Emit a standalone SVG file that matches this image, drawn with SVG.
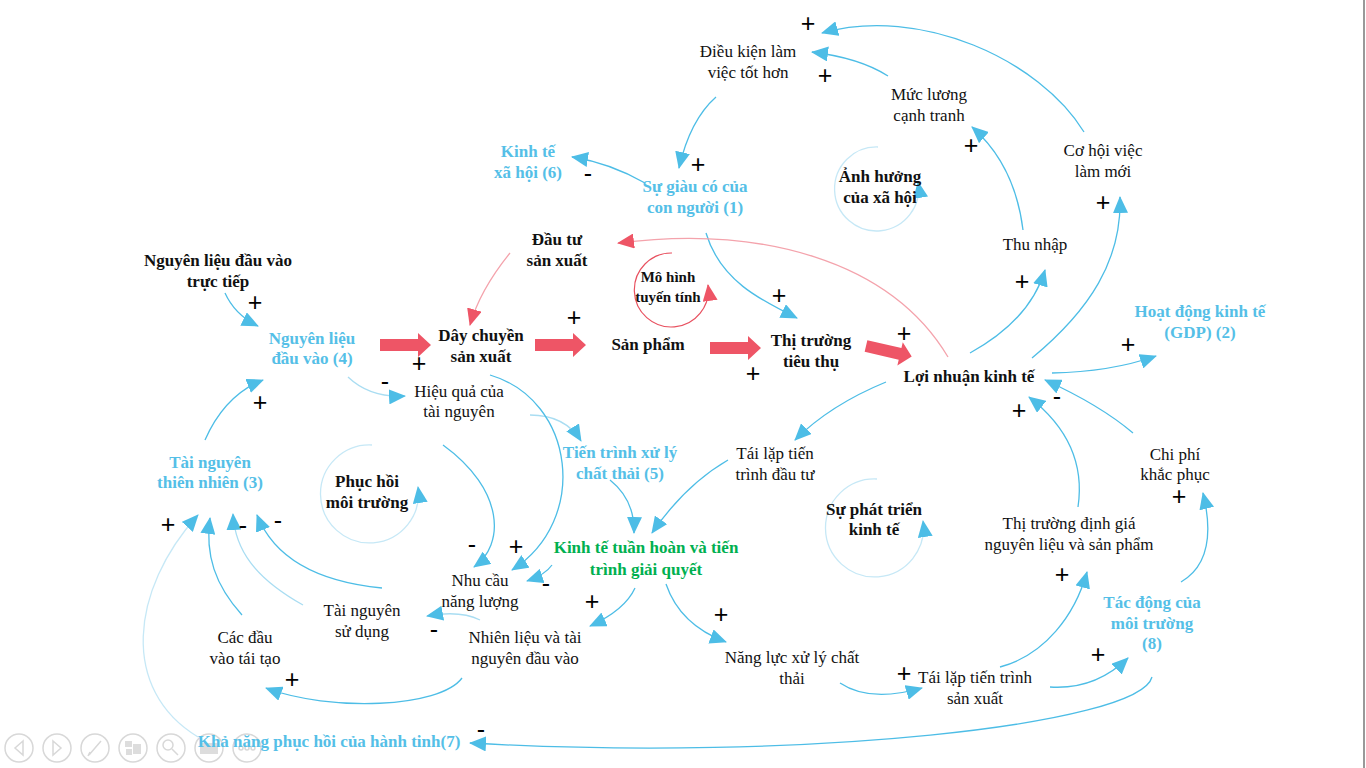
<svg xmlns="http://www.w3.org/2000/svg" width="1366" height="768" viewBox="0 0 1366 768">
<style>
.t{font-family:"Liberation Serif","Times New Roman",serif;font-size:17px;text-anchor:middle;fill:#111}
.b{font-weight:bold}
.bl{font-weight:bold;fill:#55BFE7}
.g{font-weight:bold;fill:#00B050}
.s{font-family:"Liberation Sans",Arial,sans-serif;font-size:25px;text-anchor:middle;fill:#000}
.c{fill:none;stroke:#4DBDE6;stroke-width:1.3;marker-end:url(#ab)}
.cl{fill:none;stroke:#A9DDF2;stroke-width:1.3;marker-end:url(#ab)}
.lp{fill:none;stroke:#C6E8F6;stroke-width:1.3;marker-end:url(#ab)}
.cr{fill:none;stroke:#F4A3AC;stroke-width:1.3;marker-end:url(#ar)}
.ui{fill:none;stroke:#D8D8D8;stroke-width:1.5}
</style>
<defs>
<marker id="ab" markerUnits="userSpaceOnUse" markerWidth="17" markerHeight="15" viewBox="0 0 17 15" refX="16" refY="7.5" orient="auto"><path d="M0,0 L17,7.5 L0,15 z" fill="#4DBDE6"/></marker>
<marker id="ar" markerUnits="userSpaceOnUse" markerWidth="17" markerHeight="15" viewBox="0 0 17 15" refX="16" refY="7.5" orient="auto"><path d="M0,0 L17,7.5 L0,15 z" fill="#EE5566"/></marker>
<path id="blk" d="M0,-6 L38,-6 L38,-12 L51,0 L38,12 L38,6 L0,6 z" fill="#EE5566"/>
</defs>
<rect width="1366" height="768" fill="#fff"/>
<line x1="1364" y1="0" x2="1364" y2="768" stroke="#777" stroke-width="1.5"/>

<g id="connectors">
<path class="c" d="M1084,132 C1040,60 920,5 822,33"/>
<path class="c" d="M888,76 Q860,58 812,52"/>
<path class="c" d="M716,97 Q690,120 679,168"/>
<path class="c" d="M645,183 Q610,163 572,157"/>
<path class="c" d="M1023,230 Q1015,165 972,127"/>
<path class="c" d="M1032,358 C1090,310 1122,260 1120,197"/>
<path class="c" d="M970,353 Q1030,320 1045,270"/>
<path class="c" d="M706,233 C720,280 760,300 797,318"/>
<path class="cr" d="M948,357 C890,260 760,225 618,243"/>
<path class="cr" d="M510,253 Q480,290 470,325"/>
<path class="c" d="M225,293 Q235,315 258,326"/>
<path class="cl" d="M348,377 Q370,398 405,396"/>
<path class="c" d="M205,440 Q225,395 263,380"/>
<path class="cl" d="M530,415 Q565,415 581,441"/>
<path class="c" d="M490,375 C575,400 590,520 512,570"/>
<path class="c" d="M443,445 C505,490 505,545 474,567"/>
<path class="c" d="M610,480 Q635,500 634,533"/>
<path class="c" d="M728,460 Q685,485 652,533"/>
<path class="c" d="M886,382 Q830,405 795,440"/>
<path class="c" d="M552,565 Q545,575 527,581"/>
<path class="c" d="M635,588 Q625,610 590,626"/>
<path class="c" d="M666,584 Q680,625 726,642"/>
<path class="cl" d="M480,620 Q460,610 427,616"/>
<path class="c" d="M462,678 C440,708 330,712 266,688"/>
<path class="lp" d="M198,737 C120,690 130,590 198,515"/>
<path class="c" d="M242,615 C215,585 205,555 210,518"/>
<path class="cl" d="M303,605 C255,578 235,550 233,514"/>
<path class="c" d="M382,588 C320,582 275,560 257,515"/>
<path class="c" d="M840,683 Q870,703 922,688"/>
<path class="c" d="M1000,667 C1045,655 1075,615 1087,572"/>
<path class="c" d="M1050,687 Q1095,690 1128,658"/>
<path class="c" d="M1152,677 C1140,725 800,762 470,743"/>
<path class="c" d="M1181,582 C1210,565 1212,530 1203,493"/>
<path class="c" d="M1078,507 C1085,460 1065,425 1029,397"/>
<path class="c" d="M1133,433 Q1100,405 1045,380"/>
<path class="c" d="M1052,373 Q1110,372 1156,356"/>
<path class="lp" d="M878,147 A42,42 0 1 0 918,182"/>
<path fill="none" stroke="#E8505F" stroke-width="1.2" marker-end="url(#ar)" d="M672,253 A37,37 0 1 0 708,285"/>
<path class="lp" d="M372,445 A49,49 0 1 0 418,487"/>
<path class="lp" d="M877,479 A49,49 0 1 0 923,521"/>
<use href="#blk" transform="translate(380,345)"/>
<use href="#blk" transform="translate(535,345)"/>
<use href="#blk" transform="translate(710,348)"/>
<use href="#blk" transform="translate(866,346) rotate(13) scale(0.92,1)"/>
</g>

<g id="n-dieukien"><text class="t" x="748" y="57">Điều kiện làm</text><text class="t" x="748" y="78">việc tốt hơn</text></g>
<g id="n-mucluong"><text class="t" x="929" y="100">Mức lương</text><text class="t" x="929" y="121">cạnh tranh</text></g>
<g id="n-cohoi"><text class="t" x="1103" y="156">Cơ hội việc</text><text class="t" x="1103" y="177">làm mới</text></g>
<g id="n-kinhtexh"><text class="t bl" x="528" y="157">Kinh tế</text><text class="t bl" x="528" y="178">xã hội (6)</text></g>
<g id="n-sugiauco"><text class="t bl" x="695" y="192">Sự giàu có của</text><text class="t bl" x="695" y="213">con người (1)</text></g>
<g id="n-anhhuong"><text class="t b" x="880" y="182">Ảnh hưởng</text><text class="t b" x="880" y="203">của xã hội</text></g>
<g id="n-thunhap"><text class="t" x="1035" y="250">Thu nhập</text></g>
<g id="n-dautu"><text class="t b" x="557" y="245">Đầu tư</text><text class="t b" x="557" y="266">sản xuất</text></g>
<g id="n-mohinh"><text class="t b" x="668" y="282" style="font-size:15px">Mô hình</text><text class="t b" x="668" y="302" style="font-size:15px">tuyến tính</text></g>
<g id="n-nlttiep"><text class="t b" x="218" y="266">Nguyên liệu đầu vào</text><text class="t b" x="218" y="287">trực tiếp</text></g>
<g id="n-nguyenlieu"><text class="t bl" x="312" y="344">Nguyên liệu</text><text class="t bl" x="312" y="364">đầu vào (4)</text></g>
<g id="n-daychuyen"><text class="t b" x="481" y="341">Dây chuyền</text><text class="t b" x="481" y="362">sản xuất</text></g>
<g id="n-sanpham"><text class="t b" x="648" y="350">Sản phẩm</text></g>
<g id="n-thitruong"><text class="t b" x="811" y="346">Thị trường</text><text class="t b" x="811" y="367">tiêu thụ</text></g>
<g id="n-loinhuan"><text class="t b" x="969" y="382">Lợi nhuận kinh tế</text></g>
<g id="n-hoatdong"><text class="t bl" x="1200" y="317">Hoạt động kinh tế</text><text class="t bl" x="1200" y="338">(GDP) (2)</text></g>
<g id="n-hieuqua"><text class="t" x="459" y="397">Hiệu quả của</text><text class="t" x="459" y="417">tài nguyên</text></g>
<g id="n-tientrinh"><text class="t bl" x="620" y="458">Tiến trình xử lý</text><text class="t bl" x="620" y="479">chất thải (5)</text></g>
<g id="n-tailapdt"><text class="t" x="775" y="459">Tái lặp tiến</text><text class="t" x="775" y="480">trình đầu tư</text></g>
<g id="n-phattrien"><text class="t b" x="874" y="515">Sự phát triển</text><text class="t b" x="874" y="535">kinh tế</text></g>
<g id="n-chiphi"><text class="t" x="1175" y="460">Chi phí</text><text class="t" x="1175" y="480">khắc phục</text></g>
<g id="n-dinhgia"><text class="t" x="1069" y="529">Thị trường định giá</text><text class="t" x="1069" y="550">nguyên liệu và sản phẩm</text></g>
<g id="n-tainguyentn"><text class="t bl" x="210" y="468">Tài nguyên</text><text class="t bl" x="210" y="488">thiên nhiên (3)</text></g>
<g id="n-phuchoi"><text class="t b" x="367" y="487">Phục hồi</text><text class="t b" x="367" y="508">môi trường</text></g>
<g id="n-kinhtetuanhoan"><text class="t g" x="646" y="553">Kinh tế tuần hoàn và tiến</text><text class="t g" x="646" y="575">trình giải quyết</text></g>
<g id="n-nhucau"><text class="t" x="480" y="586">Nhu cầu</text><text class="t" x="480" y="607">năng lượng</text></g>
<g id="n-tainguyensd"><text class="t" x="362" y="616">Tài nguyên</text><text class="t" x="362" y="637">sử dụng</text></g>
<g id="n-cacdau"><text class="t" x="245" y="643">Các đầu</text><text class="t" x="245" y="664">vào tái tạo</text></g>
<g id="n-nhienlieu"><text class="t" x="525" y="643">Nhiên liệu và tài</text><text class="t" x="525" y="664">nguyên đầu vào</text></g>
<g id="n-nangluc"><text class="t" x="792" y="663">Năng lực xử lý chất</text><text class="t" x="792" y="684">thải</text></g>
<g id="n-tailapsx"><text class="t" x="975" y="683">Tái lặp tiến trình</text><text class="t" x="975" y="704">sản xuất</text></g>
<g id="n-tacdong"><text class="t bl" x="1152" y="608">Tác động của</text><text class="t bl" x="1152" y="629">môi trường</text><text class="t bl" x="1152" y="649">(8)</text></g>

<g id="ui">
<circle class="ui" cx="19" cy="748" r="14"/><path class="ui" d="M23,741 L15,748 L23,755 z"/>
<circle class="ui" cx="57" cy="748" r="14"/><path class="ui" d="M53,741 L61,748 L53,755 z"/>
<circle class="ui" cx="95" cy="748" r="14"/><path class="ui" d="M89,755 L101,741 M88,756 L90,752"/>
<circle class="ui" cx="133" cy="748" r="14"/><rect x="125" y="741" width="7" height="6" fill="#DDD"/><rect x="133" y="744" width="8" height="10" fill="#DDD"/><rect x="126" y="749" width="6" height="6" fill="#DDD"/>
<circle class="ui" cx="171" cy="748" r="14"/><circle class="ui" cx="168" cy="745" r="5"/><path class="ui" d="M172,749 L178,755"/>
<circle class="ui" cx="209" cy="748" r="14"/><rect x="200" y="743" width="18" height="11" fill="#DDD"/>
<circle class="ui" cx="247" cy="748" r="14"/><circle class="ui" cx="241" cy="748" r="2"/><circle class="ui" cx="247" cy="748" r="2"/><circle class="ui" cx="253" cy="748" r="2"/>
</g>
<g id="n-khanang"><text class="t bl" x="329" y="747">Khả năng phục hồi của hành tinh(7)</text></g>

<g id="signs">
<text class="s" x="808" y="32">+</text>
<text class="s" x="825" y="84">+</text>
<text class="s" x="698" y="173">+</text>
<text class="s" x="588" y="182">-</text>
<text class="s" x="971" y="154">+</text>
<text class="s" x="1103" y="211">+</text>
<text class="s" x="1022" y="290">+</text>
<text class="s" x="779" y="304">+</text>
<text class="s" x="255" y="311">+</text>
<text class="s" x="574" y="326">+</text>
<text class="s" x="904" y="342">+</text>
<text class="s" x="419" y="372">+</text>
<text class="s" x="753" y="382">+</text>
<text class="s" x="1128" y="353">+</text>
<text class="s" x="385" y="390">-</text>
<text class="s" x="260" y="411">+</text>
<text class="s" x="1019" y="419">+</text>
<text class="s" x="1057" y="405">-</text>
<text class="s" x="1179" y="505">+</text>
<text class="s" x="168" y="533">+</text>
<text class="s" x="243" y="534">-</text>
<text class="s" x="278" y="529">-</text>
<text class="s" x="472" y="553">-</text>
<text class="s" x="516" y="555">+</text>
<text class="s" x="546" y="592">-</text>
<text class="s" x="592" y="610">+</text>
<text class="s" x="434" y="638">-</text>
<text class="s" x="721" y="623">+</text>
<text class="s" x="1062" y="583">+</text>
<text class="s" x="292" y="688">+</text>
<text class="s" x="904" y="682">+</text>
<text class="s" x="1098" y="663">+</text>
<text class="s" x="481" y="738">-</text>
</g>
</svg>
